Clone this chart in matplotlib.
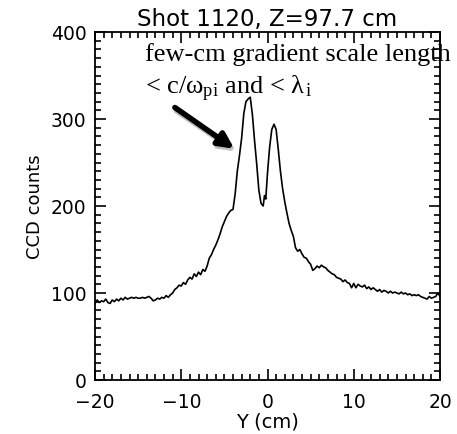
import matplotlib
matplotlib.use("Agg")
import matplotlib.pyplot as plt
from matplotlib.ticker import MultipleLocator

# profile (Y in cm, CCD counts)
y_cm = [-20.0, -19.75, -19.5, -19.25, -19.0, -18.75, -18.5, -18.25, -18.0, -17.75,
        -17.5, -17.25, -17.0, -16.75, -16.5, -16.25, -16.0, -15.75, -15.5, -15.25,
        -15.0, -14.75, -14.5, -14.25, -14.0, -13.75, -13.5, -13.25, -13.0, -12.75,
        -12.5, -12.25, -12.0, -11.75, -11.5, -11.25, -11.0, -10.75, -10.5, -10.25,
        -10.0, -9.75, -9.5, -9.25, -9.0, -8.75, -8.5, -8.25, -8.0, -7.75,
        -7.5, -7.25, -7.0, -6.75, -6.5, -6.25, -6.0, -5.75, -5.5, -5.25,
        -5.0, -4.75, -4.5, -4.25, -4.0, -3.75, -3.5, -3.25, -3.0, -2.75,
        -2.5, -2.25, -2.0, -1.75, -1.5, -1.25, -1.0, -0.75, -0.5, -0.35,
        -0.2, 0.0, 0.25, 0.5, 0.75, 1.0, 1.25, 1.5, 1.75, 2.0,
        2.25, 2.5, 2.75, 3.0, 3.25, 3.5, 3.75, 4.0, 4.25, 4.5,
        4.75, 5.0, 5.25, 5.5, 5.75, 6.0, 6.25, 6.5, 6.75, 7.0,
        7.25, 7.5, 7.75, 8.0, 8.25, 8.5, 8.75, 9.0, 9.25, 9.5,
        9.75, 10.0, 10.25, 10.5, 10.75, 11.0, 11.25, 11.5, 11.75, 12.0,
        12.25, 12.5, 12.75, 13.0, 13.25, 13.5, 13.75, 14.0, 14.25, 14.5,
        14.75, 15.0, 15.25, 15.5, 15.75, 16.0, 16.25, 16.5, 16.75, 17.0,
        17.25, 17.5, 17.75, 18.0, 18.25, 18.5, 18.75, 19.0, 19.25, 19.5,
        19.75, 20.0]
counts = [88, 92, 89, 91, 90, 93, 89, 88, 92, 90,
          93, 91, 94, 92, 95, 93, 94, 95, 94, 95,
          94, 94, 95, 94, 95, 96, 94, 91, 92, 94,
          93, 95, 94, 97, 95, 98, 100, 104, 106, 109,
          108, 112, 110, 115, 118, 116, 122, 119, 124, 121,
          127, 125, 131, 140, 144, 150, 155, 161, 168, 176,
          182, 188, 192, 195, 196, 214, 240, 258, 278, 306,
          320, 323, 325, 305, 275, 248, 218, 203, 200, 212,
          208, 238, 268, 288, 294, 288, 265, 240, 220, 205,
          192, 180, 172, 165, 152, 148, 150, 145, 141, 140,
          136, 133, 126, 128, 131, 129, 132, 130, 129, 126,
          124, 122, 121, 118, 117, 116, 113, 115, 112, 111,
          106, 111, 106, 110, 108, 107, 109, 105, 107, 104,
          106, 104, 102, 104, 101, 103, 102, 100, 102, 100,
          101, 100, 99, 101, 99, 100, 98, 99, 97, 98,
          97, 98, 96, 95, 94, 93, 96, 94, 95, 96,
          100, 96]

plt.rcParams['mathtext.fontset'] = 'custom'
plt.rcParams['mathtext.rm'] = 'Liberation Serif'
plt.rcParams['mathtext.it'] = 'Liberation Serif'

fig = plt.figure(figsize=(4.57, 4.35), dpi=100)
fig.patch.set_facecolor('white')
ax = fig.add_axes([95 / 457, 54 / 435, 345 / 457, 348 / 435])

ax.plot(y_cm, counts, color='black', lw=1.2)

ax.set_xlim(-20, 20)
ax.set_ylim(0, 400)
ax.xaxis.set_major_locator(MultipleLocator(10))
ax.xaxis.set_minor_locator(MultipleLocator(1))
ax.yaxis.set_major_locator(MultipleLocator(100))
ax.yaxis.set_minor_locator(MultipleLocator(10))
ax.tick_params(which='both', direction='in', top=True, right=True, width=1.2, labelsize=13.5)
ax.tick_params(axis='x', pad=9)
ax.tick_params(axis='y', pad=6)
ax.tick_params(which='major', length=8)
ax.tick_params(which='minor', length=4)
for s in ax.spines.values():
    s.set_linewidth(1.3)

ax.set_title('Shot 1120, Z=97.7 cm', fontsize=16.5, pad=5)
ax.set_xlabel('Y (cm)', fontsize=14, labelpad=0)
ax.set_ylabel('CCD counts', fontsize=13, labelpad=5)

# annotation
ax.text(-14.2, 375, 'few-cm gradient scale length', family='Liberation Serif',
        fontsize=19, va='center', ha='left', clip_on=False)
ax.text(-14.2, 336, r'< c/$\omega_{\rm pi}$ and < $\lambda_{\rm \,i}$', family='Liberation Serif',
        fontsize=19, va='center', ha='left')
ax.annotate('', xy=(-3.4, 261), xytext=(-10.8, 311),
            arrowprops=dict(arrowstyle='-|>,head_length=0.9,head_width=0.45', color='0.75', lw=4))
ax.annotate('', xy=(-3.6, 264), xytext=(-11.0, 315),
            arrowprops=dict(arrowstyle='-|>,head_length=0.9,head_width=0.45', color='black', lw=4))

fig.savefig('out.png', dpi=100)
